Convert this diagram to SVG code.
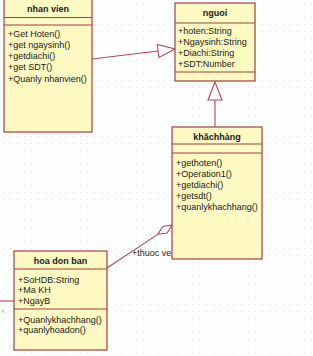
<svg xmlns="http://www.w3.org/2000/svg" width="313" height="356" viewBox="0 0 313 356">
<defs>
<pattern id="dots" width="7" height="7" patternUnits="userSpaceOnUse">
<rect x="3" y="3" width="1" height="1" fill="#e2e2e2"/>
</pattern>
<style>
.box{fill:#fff9c2;stroke:#a0404a;stroke-width:1.2}
.sep{stroke:#a0404a;stroke-width:1.2}
.ln{stroke:#b04858;stroke-width:1.1;fill:none}
.head{fill:#ffffff;stroke:#b04858;stroke-width:1.1}
text{font-family:"Liberation Sans",Arial,sans-serif;font-size:9px;fill:#1a1a1a}
.t{font-weight:bold;text-anchor:middle}
</style>
</defs>
<rect width="313" height="356" fill="#ffffff"/>
<rect width="313" height="356" fill="url(#dots)"/>
<g id="connectors">
<line class="ln" x1="92" y1="59" x2="158" y2="51"/>
<polygon class="head" points="175,49 158.9,57.5 157.3,44.5"/>
<line class="ln" x1="215" y1="100" x2="215" y2="127"/>
<polygon class="head" points="215,82 208,100 222,100"/>
<line class="ln" x1="107" y1="268" x2="157.8" y2="234.4"/>
<polygon class="head" points="172,225 167.1,233 157.8,234.4 162.7,226.4"/>
<text x="132" y="256">+thuoc ve</text>
<line class="ln" x1="0" y1="301" x2="14" y2="301"/>
<text x="2" y="313" style="font-size:6px;fill:#777">r</text>
</g>
<g id="nhanvien">
<rect class="box" x="4" y="-2" width="88" height="134"/>
<line class="sep" x1="4" y1="17.5" x2="92" y2="17.5"/>
<line class="sep" x1="4" y1="25" x2="92" y2="25"/>
<text class="t" x="48" y="12">nhan vien</text>
<text x="8" y="37">+Get Hoten()</text>
<text x="8" y="48">+get ngaysinh()</text>
<text x="8" y="59">+getdiachi()</text>
<text x="8" y="70">+get SDT()</text>
<text x="8" y="81.5">+Quanly nhanvien()</text>
</g>
<g id="nguoi">
<rect class="box" x="175" y="3" width="80" height="78"/>
<line class="sep" x1="175" y1="23" x2="255" y2="23"/>
<line class="sep" x1="175" y1="72" x2="255" y2="72"/>
<text class="t" x="215" y="16">nguoi</text>
<text x="178" y="34">+hoten:String</text>
<text x="178" y="45">+Ngaysinh:String</text>
<text x="178" y="55.5">+Diachi:String</text>
<text x="178" y="66.5">+SDT:Number</text>
</g>
<g id="khachhang">
<rect class="box" x="172" y="127" width="90" height="132"/>
<line class="sep" x1="172" y1="144" x2="262" y2="144"/>
<line class="sep" x1="172" y1="153" x2="262" y2="153"/>
<text class="t" x="217" y="139.5">khăchhàng</text>
<text x="176" y="165.5">+gethoten()</text>
<text x="176" y="176.5">+Operation1()</text>
<text x="176" y="187.5">+getdiachi()</text>
<text x="176" y="198.5">+getsdt()</text>
<text x="176" y="209.5">+quanlykhachhang()</text>
</g>
<g id="hoadonban">
<rect class="box" x="14" y="251" width="93" height="99"/>
<line class="sep" x1="14" y1="269" x2="107" y2="269"/>
<line class="sep" x1="14" y1="309" x2="107" y2="309"/>
<text class="t" x="60.5" y="263.5">hoa don ban</text>
<text x="18" y="282.5">+SoHDB:String</text>
<text x="18" y="293">+Ma KH</text>
<text x="18" y="303.5">+NgayB</text>
<text x="18" y="322.5">+Quanlykhachhang()</text>
<text x="18" y="332.5">+quanlyhoadon()</text>
</g>
</svg>
